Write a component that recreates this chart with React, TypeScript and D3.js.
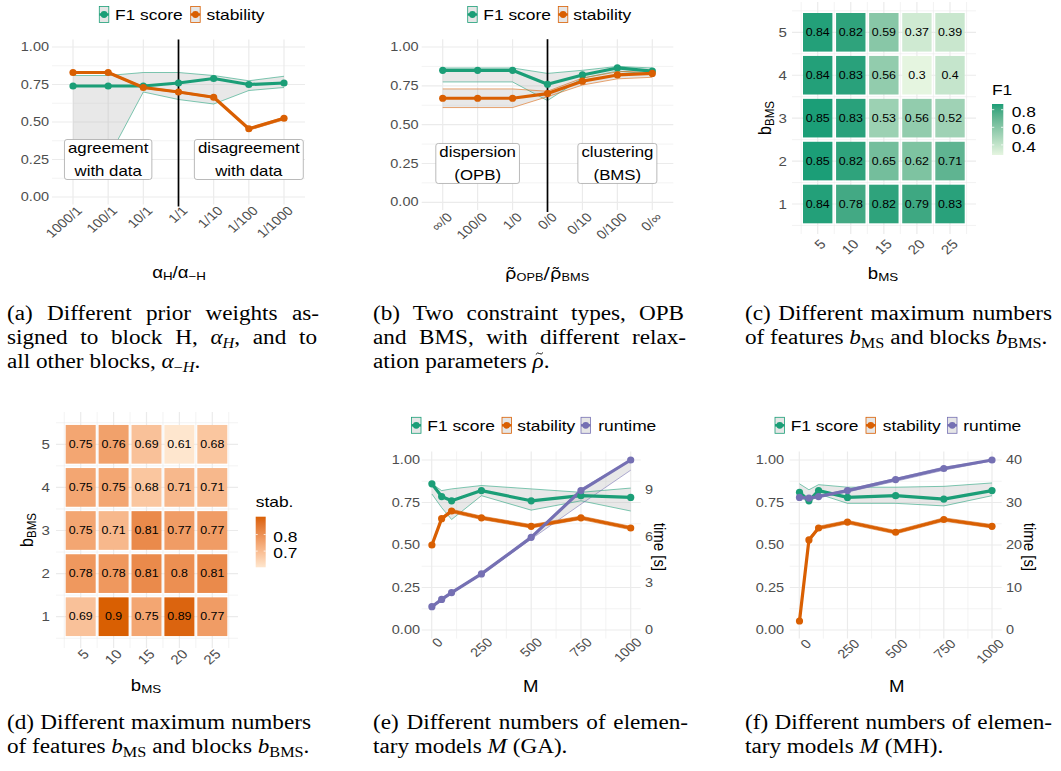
import React, { useLayoutEffect, useRef, useState } from "react";
import * as d3 from "d3";

// ---------------- data ----------------
// (a) prior weights
const aRatio = ["1000/1", "100/1", "10/1", "1/1", "1/10", "1/100", "1/1000"];
const aF1 = [0.74, 0.74, 0.74, 0.76, 0.79, 0.75, 0.76];
const aF1Lo = [0.26, 0.26, 0.7, 0.65, 0.62, 0.71, 0.73];
const aF1Hi = [0.81, 0.81, 0.83, 0.83, 0.81, 0.775, 0.805];
const aStab = [0.83, 0.83, 0.73, 0.7, 0.665, 0.455, 0.525];
const aStabLo = [0.825, 0.825, 0.725, 0.695, 0.66, 0.445, 0.515];
const aStabHi = [0.835, 0.835, 0.735, 0.705, 0.67, 0.46, 0.532];

// (b) relaxation parameters
const bRatio = ["∞/0", "100/0", "1/0", "0/0", "0/10", "0/100", "0/∞"];
const bF1 = [0.85, 0.85, 0.85, 0.76, 0.82, 0.865, 0.845];
const bF1Lo = [0.775, 0.775, 0.775, 0.655, 0.8, 0.845, 0.825];
const bF1Hi = [0.865, 0.865, 0.865, 0.83, 0.85, 0.875, 0.865];
const bStab = [0.67, 0.67, 0.67, 0.7, 0.78, 0.82, 0.83];
const bStabLo = [0.61, 0.61, 0.61, 0.68, 0.755, 0.795, 0.805];
const bStabHi = [0.73, 0.73, 0.73, 0.715, 0.8, 0.84, 0.85];

// (c), (d) heatmaps, rows = b_BMS 1..5, cols = b_MS 5..25
const bMS = [5, 10, 15, 20, 25];
const bBMS = [1, 2, 3, 4, 5];
const cF1 = [
  [0.84, 0.78, 0.82, 0.79, 0.83],
  [0.85, 0.82, 0.65, 0.62, 0.71],
  [0.85, 0.83, 0.53, 0.56, 0.52],
  [0.84, 0.83, 0.56, 0.3, 0.4],
  [0.84, 0.82, 0.59, 0.37, 0.39],
];
const dStab = [
  [0.69, 0.9, 0.75, 0.89, 0.77],
  [0.78, 0.78, 0.81, 0.8, 0.81],
  [0.75, 0.71, 0.81, 0.77, 0.77],
  [0.75, 0.75, 0.68, 0.71, 0.71],
  [0.75, 0.76, 0.69, 0.61, 0.68],
];

// (e) GA, (f) MH
const mValues = [1, 50, 100, 250, 500, 750, 1000];
const eF1 = [0.86, 0.785, 0.76, 0.82, 0.76, 0.79, 0.78];
const eF1Lo = [0.8, 0.72, 0.65, 0.79, 0.705, 0.76, 0.7];
const eF1Hi = [0.86, 0.82, 0.83, 0.85, 0.83, 0.81, 0.835];
const eStab = [0.5, 0.655, 0.7, 0.66, 0.61, 0.66, 0.6];
const eStabLo = [0.49, 0.645, 0.69, 0.65, 0.6, 0.65, 0.59];
const eStabHi = [0.505, 0.665, 0.71, 0.67, 0.62, 0.67, 0.61];
const eRun = [0.137, 0.18, 0.22, 0.33, 0.545, 0.82, 1.0];
const eRunLo = [0.13, 0.175, 0.215, 0.325, 0.535, 0.74, 0.94];
const eRunHi = [0.14, 0.185, 0.225, 0.335, 0.55, 0.83, 1.0];
const eTimeMax = 10.93;
const eTimeTicks = [0, 3, 6, 9];

const fF1 = [0.81, 0.76, 0.82, 0.78, 0.79, 0.77, 0.82];
const fF1Lo = [0.79, 0.745, 0.8, 0.745, 0.745, 0.73, 0.79];
const fF1Hi = [0.86, 0.825, 0.855, 0.84, 0.84, 0.845, 0.865];
const fStab = [0.053, 0.53, 0.6, 0.635, 0.575, 0.65, 0.61];
const fStabLo = [0.048, 0.52, 0.59, 0.625, 0.565, 0.64, 0.6];
const fStabHi = [0.058, 0.54, 0.61, 0.645, 0.585, 0.66, 0.62];
const fRun = [0.78, 0.776, 0.785, 0.82, 0.885, 0.95, 1.0];
const fRunLo = [0.775, 0.77, 0.778, 0.812, 0.875, 0.94, 0.995];
const fRunHi = [0.785, 0.782, 0.79, 0.826, 0.892, 0.958, 1.0];
const fTimeMax = 40;
const fTimeTicks = [0, 10, 20, 30, 40];

const yTicks = [0, 0.25, 0.5, 0.75, 1];
const yMinor = [0.125, 0.375, 0.625, 0.875];
const mTicks = [0, 250, 500, 750, 1000];
const mMinor = [125, 375, 625, 875];

// ---------------- style ----------------
const SX = 1.16;
const SANS = "'Liberation Sans', Arial, Helvetica, sans-serif";
const SERIF = "'Liberation Serif', 'Times New Roman', Times, serif";
const GREEN = "#1b9e77";
const ORANGE = "#d95f02";
const PURPLE = "#7570b3";
const GRID = "#ebebeb";
const TICKC = "#4d4d4d";

let _ctx: any = null;
function textW(s: string, size: number, fam = SANS, style = "") {
  if (!_ctx && typeof document !== "undefined") _ctx = document.createElement("canvas").getContext("2d");
  if (!_ctx) return s.length * size * 0.5;
  _ctx.font = `${style}${size}px ${fam}`;
  return _ctx.measureText(s).width;
}

function T(p: any) {
  const { x, y, size = 13, fill = "#000", anchor = "middle", rot = 0, baseline = "central", family = SANS, children, style } = p;
  return (
    <text
      transform={`translate(${x},${y}) scale(${SX},1)${rot ? ` rotate(${rot})` : ""}`}
      fontSize={size}
      fill={fill}
      textAnchor={anchor}
      dominantBaseline={baseline}
      fontFamily={family}
      style={style}
    >
      {children}
    </text>
  );
}

// ---------------- line panel ----------------
function LinePanel(p: any) {
  const { xs, xPos, ticks, minor, y, panel, series, vlineAt, labels, right, legend, legendY, yLabelX, tickDx, tickY, xTitle } = p;
  const X = (i: number) => xPos(xs[i]);
  const lineGen = (arr: number[]) => d3.line<number>().x((_, i) => X(i)).y((v) => y(v))(arr) || "";
  const areaGen = (lo: number[], hi: number[]) =>
    d3.area<number>().x((_, i) => X(i)).y0((_, i) => y(lo[i])).y1((_, i) => y(hi[i]))(lo) || "";
  return (
    <g>
      {yMinor.map((v) => (
        <line key={"ym" + v} x1={panel.x0} x2={panel.x1} y1={y(v)} y2={y(v)} stroke={GRID} strokeWidth={0.6} />
      ))}
      {minor.map((v: number) => (
        <line key={"xm" + v} x1={xPos(v)} x2={xPos(v)} y1={panel.y0} y2={panel.y1} stroke={GRID} strokeWidth={0.6} />
      ))}
      {yTicks.map((v) => (
        <line key={"yM" + v} x1={panel.x0} x2={panel.x1} y1={y(v)} y2={y(v)} stroke={GRID} strokeWidth={1.2} />
      ))}
      {ticks.map((v: any) => (
        <line key={"xM" + v} x1={xPos(v)} x2={xPos(v)} y1={panel.y0} y2={panel.y1} stroke={GRID} strokeWidth={1.2} />
      ))}
      {series.map((s: any, k: number) => (
        <path key={"r" + k} d={areaGen(s.lo, s.hi)} fill="#b3b3b3" fillOpacity={0.3} />
      ))}
      {series.map((s: any, k: number) => (
        <g key={"rb" + k}>
          <path d={lineGen(s.lo)} fill="none" stroke={s.color} strokeWidth={0.7} strokeOpacity={0.8} />
          <path d={lineGen(s.hi)} fill="none" stroke={s.color} strokeWidth={0.7} strokeOpacity={0.8} />
        </g>
      ))}
      {vlineAt !== undefined && (
        <line x1={xPos(vlineAt)} x2={xPos(vlineAt)} y1={panel.y0} y2={panel.y1 + 2} stroke="#000" strokeWidth={1.7} />
      )}
      {series.map((s: any, k: number) => (
        <path key={"l" + k} d={lineGen(s.mean)} fill="none" stroke={s.color} strokeWidth={3.2} strokeLinejoin="round" />
      ))}
      {series.map((s: any, k: number) =>
        s.mean.map((v: number, i: number) => <circle key={"p" + k + "-" + i} cx={X(i)} cy={y(v)} r={3.6} fill={s.color} />)
      )}
      {(labels || []).map((lb: any, k: number) => {
        const cx = xPos(lb.at);
        const cy = y(lb.y);
        const w = Math.max(...lb.lines.map((t: string) => textW(t, 14.5))) * SX + 7;
        return (
          <g key={"lb" + k}>
            <rect x={cx - w / 2} y={cy - 20} width={w} height={40} rx={2.5} fill="#fff" stroke="#a8a8a8" strokeWidth={0.8} />
            <T x={cx} y={cy - 11.2} size={14.5}>{lb.lines[0]}</T>
            <T x={cx} y={cy + 11.5} size={14.5}>{lb.lines[1]}</T>
          </g>
        );
      })}
      {yTicks.map((v) => (
        <T key={"yl" + v} x={yLabelX} y={y(v)} size={12.5} fill={TICKC} anchor="end">
          {d3.format(".2f")(v)}
        </T>
      ))}
      {right &&
        right.ticks.map((t: number) => (
          <T key={"rl" + t} x={right.labelX} y={y(t / right.max)} size={12.5} fill={TICKC} anchor="start">
            {t}
          </T>
        ))}
      {right && (
        <T x={right.titleX} y={(panel.y0 + panel.y1) / 2 + 2} size={15} rot={90}>
          time [s]
        </T>
      )}
      {ticks.map((v: any) => (
        <T key={"xl" + v} x={xPos(v) + tickDx} y={tickY} size={12.5} fill={TICKC} anchor="end" baseline="alphabetic" rot={-45}>
          {String(v)}
        </T>
      ))}
      {xTitle}
      {legend.map((it: any, k: number) => (
        <g key={"lg" + k}>
          <rect x={it.kx} y={legendY - 8} width={9.5} height={16} fill="#e6e6e6" stroke={it.color} strokeWidth={0.8} />
          <line x1={it.kx} x2={it.kx + 9.5} y1={legendY} y2={legendY} stroke={it.color} strokeWidth={2.5} />
          <circle cx={it.kx + 4.75} cy={legendY} r={3.4} fill={it.color} />
          <T x={it.tx} y={legendY} size={15} anchor="start">
            {it.label}
          </T>
        </g>
      ))}
    </g>
  );
}

// ---------------- heatmap ----------------
function Heatmap(p: any) {
  const { values, colRange, rowRange, tileW, tileH, panel, lo, hi, dom, yLabelX, tickY, tickDx, bar, id } = p;
  const xs = d3.scalePoint<number>().domain(bMS).range(colRange);
  const ys = d3.scalePoint<number>().domain(bBMS).range(rowRange);
  const stepX = Math.abs(xs(bMS[1])! - xs(bMS[0])!);
  const stepY = Math.abs(ys(bBMS[1])! - ys(bBMS[0])!);
  const color = d3.scaleLinear<string>().domain(dom).range([lo, hi]).interpolate(d3.interpolateLab);
  const bx = bMS.map((_, i) => xs(bMS[0])! - stepX / 2 + i * stepX).concat([xs(bMS[4])! + stepX / 2]);
  const byl = bBMS.map((_, i) => ys(bBMS[0])! + stepY / 2 - i * stepY).concat([ys(bBMS[4])! - stepY / 2]);
  const barScale = d3.scaleLinear().domain(dom).range([bar.y1 - 1.3, bar.y0 + 1.3]);
  return (
    <g>
      {bx.map((v, i) => (
        <line key={"vx" + i} x1={v} x2={v} y1={panel.y0} y2={panel.y1} stroke={GRID} strokeWidth={0.6} />
      ))}
      {byl.map((v, i) => (
        <line key={"hy" + i} x1={panel.x0} x2={panel.x1} y1={v} y2={v} stroke={GRID} strokeWidth={0.6} />
      ))}
      {bMS.map((c) => (
        <line key={"VX" + c} x1={xs(c)} x2={xs(c)} y1={panel.y0} y2={panel.y1} stroke={GRID} strokeWidth={1.2} />
      ))}
      {bBMS.map((r) => (
        <line key={"HY" + r} x1={panel.x0} x2={panel.x1} y1={ys(r)} y2={ys(r)} stroke={GRID} strokeWidth={1.2} />
      ))}
      {values.map((row: number[], ri: number) =>
        row.map((v, ci) => {
          const cx = xs(bMS[ci])!;
          const cy = ys(bBMS[ri])!;
          return (
            <g key={`t${ri}-${ci}`}>
              <rect x={cx - tileW / 2} y={cy - tileH / 2} width={tileW} height={tileH} fill={color(v)} />
              <T x={cx} y={cy} size={10.7}>
                {String(v)}
              </T>
            </g>
          );
        })
      )}
      {bBMS.map((r) => (
        <T key={"yl" + r} x={yLabelX} y={ys(r)} size={13} fill={TICKC} anchor="end">
          {r}
        </T>
      ))}
      {bMS.map((c) => (
        <T key={"xl" + c} x={xs(c)! + tickDx} y={tickY} size={13} fill={TICKC} anchor="end" baseline="alphabetic" rot={-45}>
          {c}
        </T>
      ))}
      <defs>
        <linearGradient id={id} x1="0" x2="0" y1="1" y2="0">
          {d3.range(0, 1.0001, 0.1).map((t) => (
            <stop key={t} offset={t} stopColor={color(dom[0] + t * (dom[1] - dom[0]))} />
          ))}
        </linearGradient>
      </defs>
      <T x={bar.x} y={bar.titleY} size={15} anchor="start">
        {bar.title}
      </T>
      <rect x={bar.x} y={bar.y0} width={bar.w} height={bar.y1 - bar.y0} fill={`url(#${id})`} />
      {bar.ticks.map((t: number) => (
        <g key={"bt" + t}>
          <line x1={bar.x} x2={bar.x + bar.w / 5} y1={barScale(t)} y2={barScale(t)} stroke="#fff" strokeWidth={0.8} />
          <line x1={bar.x + (bar.w * 4) / 5} x2={bar.x + bar.w} y1={barScale(t)} y2={barScale(t)} stroke="#fff" strokeWidth={0.8} />
          <T x={bar.labelX} y={barScale(t) + 1.5} size={15} anchor="start">
            {d3.format(".1f")(t)}
          </T>
        </g>
      ))}
    </g>
  );
}

// ---------------- captions ----------------
function CapLine(p: any) {
  const { x, y, width, justify, children } = p;
  const ref = useRef<SVGTextElement>(null);
  const [ws, setWs] = useState(0);
  useLayoutEffect(() => {
    if (!justify || !ref.current) return;
    const el = ref.current;
    const w = el.getComputedTextLength();
    const n = (el.textContent || "").split(" ").length - 1;
    if (n > 0) setWs((width / SX - w) / n);
  }, []);
  return (
    <text
      ref={ref}
      transform={`translate(${x},${y}) scale(${SX},1)`}
      fontFamily={SERIF}
      fontSize={20}
      fill="#000"
      style={{ wordSpacing: `${ws}px` }}
    >
      {children}
    </text>
  );
}

const It = (p: any) => <tspan fontStyle="italic">{p.children}</tspan>;
const Sub = (p: any) => (
  <>
    <tspan fontSize={14} dy={4} fontStyle={p.italic ? "italic" : "normal"}>
      {p.children}
    </tspan>
    <tspan dy={-4}>{p.after}</tspan>
  </>
);

function Captions() {
  const r1 = [320, 344, 368];
  const r2 = [729, 753];
  // tilde accent over the italic rho in caption (b)
  const rhoStart = 373 + SX * textW("ation parameters ", 20, SERIF);
  const rhoW = SX * textW("ρ", 20, SERIF, "italic ");
  const tx = rhoStart + rhoW * 0.6;
  const ty = r1[2] - 14.5;
  return (
    <g>
      <CapLine x={7} y={r1[0]} width={312} justify>(a) Different prior weights as-</CapLine>
      <CapLine x={7} y={r1[1]} width={310} justify>
        signed to block H, <It>α</It>
        <Sub italic after=", and to">H</Sub>
      </CapLine>
      <CapLine x={7} y={r1[2]}>
        all other blocks, <It>α</It>
        <tspan fontSize={14} dy={4}>−</tspan>
        <tspan fontSize={14} fontStyle="italic">H</tspan>
        <tspan dy={-4}>.</tspan>
      </CapLine>

      <CapLine x={373} y={r1[0]} width={311} justify>(b) Two constraint types, OPB</CapLine>
      <CapLine x={373} y={r1[1]} width={313} justify>and BMS, with different relax-</CapLine>
      <CapLine x={373} y={r1[2]}>
        ation parameters <It>ρ</It>.
      </CapLine>
      <path
        d={`M${tx - 3.6},${ty + 1} Q${tx - 1.8},${ty - 1.6} ${tx},${ty} T${tx + 3.6},${ty - 1}`}
        fill="none"
        stroke="#000"
        strokeWidth={0.9}
      />

      <CapLine x={745} y={r1[0]} width={307} justify>(c) Different maximum numbers</CapLine>
      <CapLine x={745} y={r1[1]}>
        of features <It>b</It>
        <Sub after=" and blocks ">MS</Sub>
        <It>b</It>
        <Sub after=".">BMS</Sub>
      </CapLine>

      <CapLine x={7} y={r2[0]} width={304} justify>(d) Different maximum numbers</CapLine>
      <CapLine x={7} y={r2[1]}>
        of features <It>b</It>
        <Sub after=" and blocks ">MS</Sub>
        <It>b</It>
        <Sub after=".">BMS</Sub>
      </CapLine>

      <CapLine x={373} y={r2[0]} width={315} justify>(e) Different numbers of elemen-</CapLine>
      <CapLine x={373} y={r2[1]}>
        tary models <It>M</It> (GA).
      </CapLine>

      <CapLine x={745} y={r2[0]} width={307} justify>(f) Different numbers of elemen-</CapLine>
      <CapLine x={745} y={r2[1]}>
        tary models <It>M</It> (MH).
      </CapLine>
    </g>
  );
}

// ---------------- panels ----------------
function PanelA() {
  const xPos = d3.scalePoint<string>().domain(aRatio).range([73, 284]);
  const y = d3.scaleLinear().domain([0, 1]).range([197, 47]);
  const series = [
    { color: GREEN, mean: aF1, lo: aF1Lo, hi: aF1Hi },
    { color: ORANGE, mean: aStab, lo: aStabLo, hi: aStabHi },
  ];
  return (
    <LinePanel
      xs={aRatio}
      xPos={(v: string) => xPos(v)!}
      ticks={aRatio}
      minor={[]}
      y={y}
      panel={{ x0: 52, x1: 305, y0: 39.5, y1: 204.5 }}
      series={series}
      vlineAt="1/1"
      labels={[
        { at: "100/1", y: 0.25, lines: ["agreement", "with data"] },
        { at: "1/100", y: 0.25, lines: ["disagreement", "with data"] },
      ]}
      yLabelX={49}
      tickDx={10}
      tickY={211.5}
      legendY={14.5}
      legend={[
        { kx: 99.3, tx: 115, label: "F1 score", color: GREEN },
        { kx: 190.7, tx: 206.5, label: "stability", color: ORANGE },
      ]}
      xTitle={
        <T x={179} y={272} size={16}>
          α<tspan fontSize={11.5} dy={4}>H</tspan>
          <tspan dy={-4}>/α</tspan>
          <tspan fontSize={11.5} dy={4}>−H</tspan>
        </T>
      }
    />
  );
}

function PanelB() {
  const xPos = d3.scalePoint<string>().domain(bRatio).range([442.7, 652.3]);
  const y = d3.scaleLinear().domain([0, 1]).range([202.3, 47]);
  const series = [
    { color: GREEN, mean: bF1, lo: bF1Lo, hi: bF1Hi },
    { color: ORANGE, mean: bStab, lo: bStabLo, hi: bStabHi },
  ];
  return (
    <LinePanel
      xs={bRatio}
      xPos={(v: string) => xPos(v)!}
      ticks={bRatio}
      minor={[]}
      y={y}
      panel={{ x0: 421.7, x1: 673.3, y0: 39.2, y1: 210 }}
      series={series}
      vlineAt="0/0"
      labels={[
        { at: "100/0", y: 0.25, lines: ["dispersion", "(OPB)"] },
        { at: "0/100", y: 0.25, lines: ["clustering", "(BMS)"] },
      ]}
      yLabelX={418.5}
      tickDx={10.5}
      tickY={218}
      legendY={14.5}
      legend={[
        { kx: 467.7, tx: 483.3, label: "F1 score", color: GREEN },
        { kx: 558.3, tx: 573.3, label: "stability", color: ORANGE },
      ]}
      xTitle={
        <T x={547} y={273} size={16} family="'DejaVu Sans', sans-serif">
          {"ρ\u0303"}
          <tspan fontSize={11} dy={4} fontFamily={SANS}>OPB</tspan>
          <tspan dy={-4}>{"/ρ\u0303"}</tspan>
          <tspan fontSize={11} dy={4} fontFamily={SANS}>BMS</tspan>
        </T>
      }
    />
  );
}

function PanelE() {
  const xPos = d3.scaleLinear().domain([0, 1000]).range([431.7, 630.7]);
  const y = d3.scaleLinear().domain([0, 1]).range([630, 460]);
  const series = [
    { color: GREEN, mean: eF1, lo: eF1Lo, hi: eF1Hi },
    { color: ORANGE, mean: eStab, lo: eStabLo, hi: eStabHi },
    { color: PURPLE, mean: eRun, lo: eRunLo, hi: eRunHi },
  ];
  return (
    <LinePanel
      xs={mValues}
      xPos={(v: number) => xPos(v)}
      ticks={mTicks}
      minor={mMinor}
      y={y}
      panel={{ x0: 421.7, x1: 640.7, y0: 451.5, y1: 638.5 }}
      series={series}
      yLabelX={420}
      tickDx={12}
      tickY={643}
      right={{ max: eTimeMax, ticks: eTimeTicks, labelX: 645, titleX: 660 }}
      legendY={425.3}
      legend={[
        { kx: 411.5, tx: 427.3, label: "F1 score", color: GREEN },
        { kx: 502, tx: 517.3, label: "stability", color: ORANGE },
        { kx: 581, tx: 598.3, label: "runtime", color: PURPLE },
      ]}
      xTitle={
        <T x={530.7} y={686.7} size={16}>
          M
        </T>
      }
    />
  );
}

function PanelF() {
  const xPos = d3.scaleLinear().domain([0, 1000]).range([799.3, 992]);
  const y = d3.scaleLinear().domain([0, 1]).range([630, 460]);
  const series = [
    { color: GREEN, mean: fF1, lo: fF1Lo, hi: fF1Hi },
    { color: ORANGE, mean: fStab, lo: fStabLo, hi: fStabHi },
    { color: PURPLE, mean: fRun, lo: fRunLo, hi: fRunHi },
  ];
  return (
    <LinePanel
      xs={mValues}
      xPos={(v: number) => xPos(v)}
      ticks={mTicks}
      minor={mMinor}
      y={y}
      panel={{ x0: 789.7, x1: 1001.7, y0: 451.5, y1: 638.5 }}
      series={series}
      yLabelX={784}
      tickDx={13}
      tickY={644.5}
      right={{ max: fTimeMax, ticks: fTimeTicks, labelX: 1006, titleX: 1030 }}
      legendY={425.3}
      legend={[
        { kx: 775, tx: 790.7, label: "F1 score", color: GREEN },
        { kx: 866, tx: 882.7, label: "stability", color: ORANGE },
        { kx: 947.5, tx: 963.3, label: "runtime", color: PURPLE },
      ]}
      xTitle={
        <T x={896.7} y={686.7} size={16}>
          M
        </T>
      }
    />
  );
}

function PanelC() {
  return (
    <g>
      <Heatmap
        id="gradC"
        values={cF1}
        colRange={[817.7, 950]}
        rowRange={[204, 32.3]}
        tileW={29.4}
        tileH={38.6}
        panel={{ x0: 792, x1: 976, y0: 2, y1: 234 }}
        lo="#e5f5e0"
        hi="#1b9e77"
        dom={[0.3, 0.85]}
        yLabelX={787}
        tickY={245}
        tickDx={9}
        bar={{ x: 992, y0: 104, y1: 155, w: 11.3, ticks: [0.4, 0.6, 0.8], labelX: 1011.7, title: "F1", titleY: 89 }}
      />
      <T x={883} y={273} size={16}>
        b<tspan fontSize={11.5} dy={4}>MS</tspan>
      </T>
      <T x={765} y={118} size={16} rot={-90}>
        b<tspan fontSize={11.5} dy={4}>BMS</tspan>
      </T>
    </g>
  );
}

function PanelD() {
  return (
    <g>
      <Heatmap
        id="gradD"
        values={dStab}
        colRange={[80.7, 212.3]}
        rowRange={[616.7, 444.3]}
        tileW={30}
        tileH={38.7}
        panel={{ x0: 56, x1: 238, y0: 412, y1: 648 }}
        lo="#fee6ce"
        hi="#d95f02"
        dom={[0.61, 0.9]}
        yLabelX={50}
        tickY={655}
        tickDx={9.3}
        bar={{ x: 255.7, y0: 516.7, y1: 567.3, w: 10, ticks: [0.7, 0.8], labelX: 273.3, title: "stab.", titleY: 501.7 }}
      />
      <T x={146} y={685} size={16}>
        b<tspan fontSize={11.5} dy={4}>MS</tspan>
      </T>
      <T x={26.7} y={530} size={16} rot={-90}>
        b<tspan fontSize={11.5} dy={4}>BMS</tspan>
      </T>
    </g>
  );
}

export default function App() {
  return (
    <svg
      width={1061}
      height={771}
      viewBox="0 0 1061 771"
      style={{ position: "absolute", left: 0, top: 0, background: "#fff" }}
    >
      <rect width={1061} height={771} fill="#fff" />
      <PanelA />
      <PanelB />
      <PanelC />
      <PanelD />
      <PanelE />
      <PanelF />
      <Captions />
    </svg>
  );
}
